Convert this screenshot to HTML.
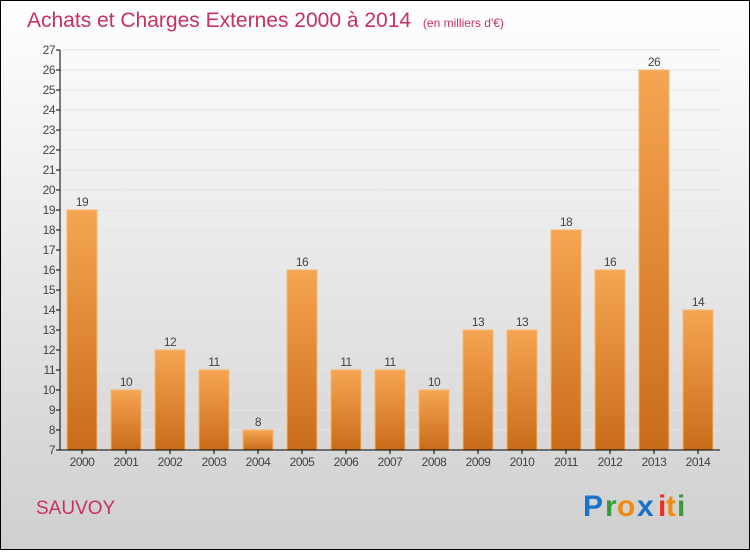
<!DOCTYPE html>
<html><head><meta charset="utf-8"><style>
html,body{margin:0;padding:0}
body{width:750px;height:550px;overflow:hidden;font-family:"Liberation Sans",sans-serif}
</style></head><body>
<svg id="chart" width="750" height="550" xmlns="http://www.w3.org/2000/svg">
<defs>
<linearGradient id="bg" x1="0" y1="0" x2="0" y2="1"><stop offset="0" stop-color="#ffffff"/><stop offset="1" stop-color="#cfcfcf"/></linearGradient>
<linearGradient id="bar" x1="0" y1="0" x2="0" y2="1"><stop offset="0" stop-color="#f6a552"/><stop offset="1" stop-color="#c96c1a"/></linearGradient>
</defs>
<rect x="0.5" y="0.5" width="749" height="549" fill="url(#bg)" stroke="#000"/>
<text x="27" y="27" font-size="21" fill="#c8305e">Achats et Charges Externes 2000 à 2014 <tspan font-size="12" dx="6">(en milliers d'€)</tspan></text>
<g id="grid"></g>
<g id="bars"></g>
<g id="axes"></g>
<text x="36" y="514" font-size="19" fill="#c8305e">SAUVOY</text>
<g font-size="30" font-weight="bold">
<text x="583" y="516" fill="#1a73c8">P</text><text x="605" y="516" fill="#3a9a3a">r</text><text x="617" y="516" fill="#f08a10">o</text><text x="637" y="516" fill="#1a73c8">x</text><text x="658" y="516" fill="#e83020">i</text><text x="666" y="516" fill="#f08a10">t</text><text x="677" y="516" fill="#3a9a3a">i</text>
</g>
</svg>
<script>
const years=['2000','2001','2002','2003','2004','2005','2006','2007','2008','2009','2010','2011','2012','2013','2014'];
const values=[19,10,12,11,8,16,11,11,10,13,13,18,16,26,14];
const yTicks=[7,8,9,10,11,12,13,14,15,16,17,18,19,20,21,22,23,24,25,26,27];
const NS='http://www.w3.org/2000/svg';
const x0=60,x1=720,yTop=50,yBot=450,yMin=7,yMax=27;
const y=v=>yBot-(v-yMin)/(yMax-yMin)*(yBot-yTop);
const step=(x1-x0)/years.length;
const cx=i=>x0+step*(i+0.5);
function mk(t,a,p){const e=document.createElementNS(NS,t);for(const k in a)e.setAttribute(k,a[k]);p.appendChild(e);return e;}
const grid=document.getElementById('grid'),bars=document.getElementById('bars'),axes=document.getElementById('axes');
yTicks.forEach(v=>{
 const l=mk('line',{x1:x0,x2:x1,y1:y(v),y2:y(v),stroke:'#e4e4e4'},grid);
 
 
 const t=mk('line',{x1:x0-4,x2:x0,y1:y(v),y2:y(v),stroke:'#000'},axes);
 
 
 const tx=mk('text',{x:x0-5,y:y(v)+4,'text-anchor':'end','font-size':'12',fill:'#444','letter-spacing':'-0.5'},axes);
 tx.textContent=v;
 
 
});
values.forEach((v,i)=>{
 const r=mk('rect',{x:cx(i)-15,y:y(v),width:30,height:yBot-y(v),fill:'url(#bar)',stroke:'#f8b870','stroke-width':'1'},bars);
 
 
 const t=mk('text',{x:cx(i),y:y(v)-4,'text-anchor':'middle','font-size':'12',fill:'#444','letter-spacing':'-0.5'},bars);
 t.textContent=v;
 
 
 const tk=mk('line',{x1:cx(i),x2:cx(i),y1:yBot,y2:yBot+4,stroke:'#000'},axes);
 
 
 const xl=mk('text',{x:cx(i),y:yBot+16,'text-anchor':'middle','font-size':'12',fill:'#444','letter-spacing':'-0.5'},axes);
 xl.textContent=years[i];
 
 
});
const ya=mk('line',{x1:x0,x2:x0,y1:yTop,y2:yBot,stroke:'#000'},axes);


const xa=mk('line',{x1:x0,x2:x1,y1:yBot,y2:yBot,stroke:'#000'},axes);


</script>
</body></html>
